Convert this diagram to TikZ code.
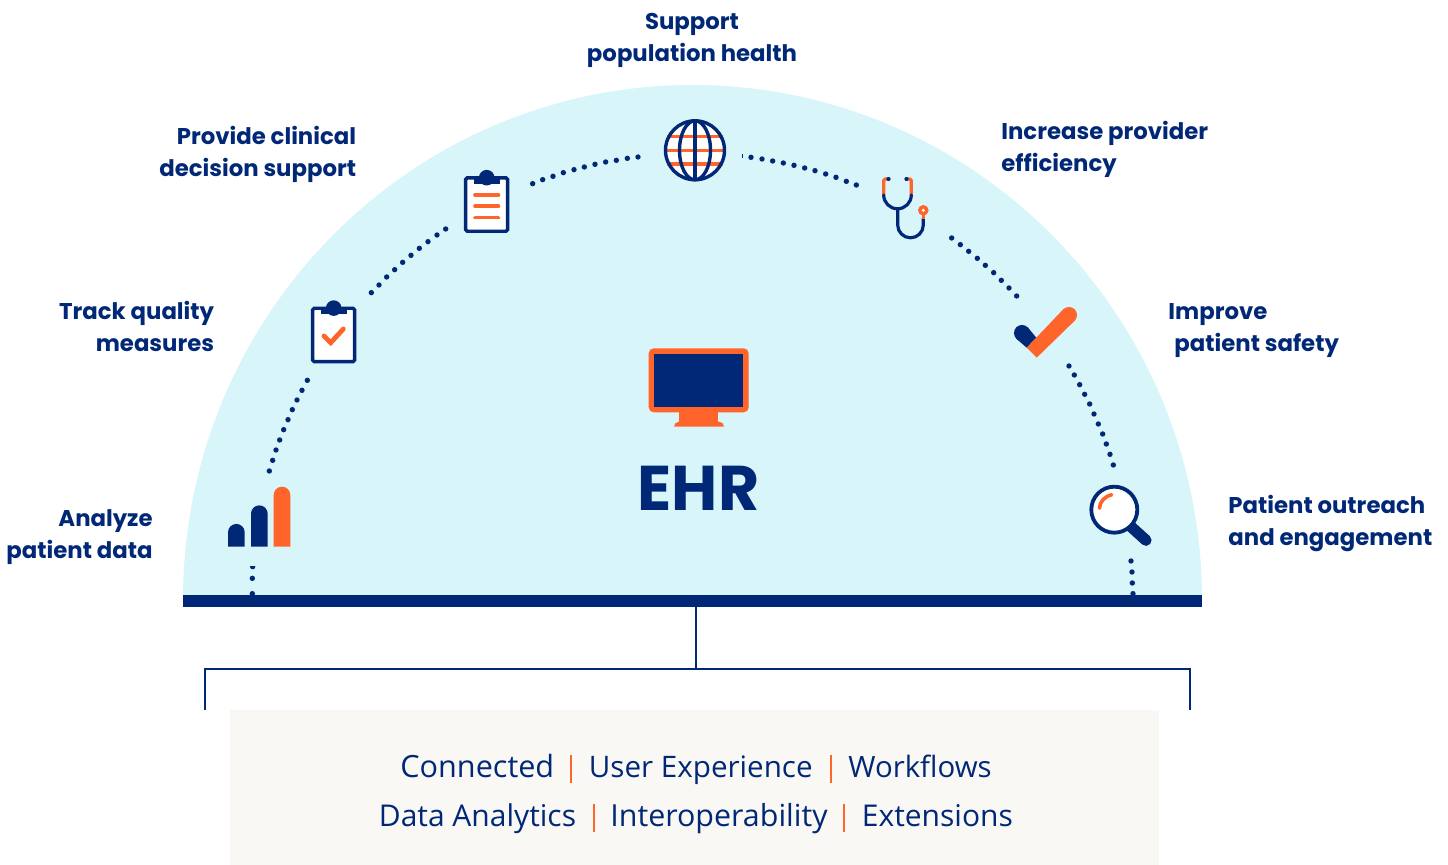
\documentclass[tikz,border=0pt]{standalone}
\usepackage{fontspec}
\setmainfont{Poppins}
\newfontfamily\lowfont{Open Sans}
\definecolor{navy}{HTML}{012876}
\definecolor{org}{HTML}{FF652B}
\definecolor{sky}{HTML}{D8F5FA}
\definecolor{cream}{HTML}{F9F8F4}
\newcommand{\lowsize}[1]{\fontsize{#1}{15}\selectfont}
\tikzset{
 lab/.style={text=navy,font=\fontsize{11.4}{16}\selectfont\bfseries,inner sep=0pt,align=left},
 labr/.style={lab,align=right},
 lower/.style={text=navy,font=\lowfont\fontsize{15}{15}\selectfont,inner sep=0pt,anchor=base west},
 sep/.style={draw=org,line width=1pt},
 nv/.style={draw=navy,line width=1.7pt},
 thinnv/.style={draw=navy,line width=1.6pt,line cap=round,line join=round},
 orline/.style={draw=org,line width=1.8pt,line cap=round},
 conn/.style={draw=navy,line width=1pt},
}
\newcommand{\zdots}[3]{\foreach \x/\y in {#3}{\fill[navy] ({#1+\x/3},{#2+\y/3}) circle[radius=2.7];}}
\newcommand{\clipboard}[2]{% left x, top y
 \begin{scope}[shift={(#1,#2)}]
  \draw[nv,fill=white,rounded corners=0.8pt] (1.6,1.6) rectangle (43.6,55);
  \fill[navy] (9.6,0) rectangle (36,7.8);
  \fill[navy] (22.7,1.4) circle[radius=7.8];
 \end{scope}}
\begin{document}
\begin{tikzpicture}[x=0.5pt,y=-0.5pt]
\useasboundingbox (0,0) rectangle (1448,865);
% dome
\fill[sky] (183,600) arc[start angle=180,end angle=360,x radius=509.5,y radius=515] -- cycle;
% labels
\node[labr,anchor=east] (a) at (153,537) {Analyze\\patient data};
\node[labr,anchor=east] (b) at (214.5,326.5) {Track quality\\measures};
\node[labr,anchor=east] (c) at (356.5,154) {Provide clinical\\decision support};
\node[lab,align=center] (d) at (692,40) {Support\\population health};
\node[lab,anchor=west] (e) at (1001,149) {Increase provider\\efficiency};
\node[lab,anchor=west] (f) at (1168,331) {Improve\\\hspace*{3pt}patient safety};
\node[lab,anchor=west] (g) at (1228,524) {Patient outreach\\and engagement};
\node[text=navy,font=\fontsize{31.6}{31}\selectfont\bfseries,inner sep=0pt] (ehr) at (698.5,488) {EHR};
% dotted arcs
\zdots{210}{280}{178/573,188/541,198/510,209/480,221/449,234/419,247/389,261/360,276/331,292/301}
\zdots{360}{220}{34/218,57/195,80/171,104/149,128/127,153/106,178/85,204/65,231/45,257/27}
\zdots{440}{100}{278/251,308/239,339/229,370/218,402/209,433/201,465/193,497/186,529/181,562/175,594/171}
\zdots{735}{145}{48/37,81/42,113/48,145/54,177/61,209/69,240/77,272/87,303/97,334/109,364/120}
\fill[navy] (742,154.5) rectangle (743,158);
\zdots{860}{160}{275/234,301/254,326/274,352/295,376/316,401/338,424/361,447/384,470/408}
\zdots{1055}{355}{42/33,58/60,74/89,89/118,104/147,117/177,130/207,143/237,154/267,165/298,175/330}
\zdots{1060}{460}{213/303,216/336,217/369,219/401}
\begin{scope}
\clip (240,567) rectangle (265,600);
\zdots{210}{280}{128/860,127/895,127/941}
\end{scope}
% bar chart
\fill[navy] (228,546.7) -- (228,532.3) arc[start angle=180,end angle=360,radius=8.35] -- (244.7,546.7) -- cycle;
\fill[navy] (251,546.7) -- (251,513.7) arc[start angle=180,end angle=360,radius=8.35] -- (267.7,546.7) -- cycle;
\fill[org] (273.7,546.7) -- (273.7,495) arc[start angle=180,end angle=360,radius=8.3] -- (290.3,546.7) -- cycle;
% clipboards
\clipboard{311}{306.7}
\draw[org,line width=2.4pt,line cap=round,line join=miter] (324,336) -- (330.7,342.7) -- (343.3,329);
\clipboard{464}{176.3}
\foreach \yy in {195,206.3,217.7}{\draw[orline] (475,\yy) -- (498.5,\yy);}
% globe
\fill[white] (695,150.3) circle[radius=29.5];
\draw[orline,line cap=butt] (667,136.7) -- (723,136.7) (666,150.7) -- (724,150.7) (667,164.3) -- (723,164.3);
\draw[nv] (695,150.3) circle[radius=29.5];
\draw[nv] (695,150.3) ellipse[x radius=15.5,y radius=29.5];
\draw[nv] (695,121) -- (695,180);
% stethoscope
\draw[thinnv,draw=org,line cap=butt] (888,179) -- (885,179) to[out=180,in=90,looseness=0] (883.7,180.5) -- (883.7,195);
\draw[thinnv,draw=org,line cap=butt] (907,179) -- (910,179) to[out=0,in=90,looseness=0] (911.3,180.5) -- (911.3,195);
\draw[thinnv] (883.7,195) arc[start angle=180,end angle=0,radius=13.8];
\draw[thinnv] (888,179) -- (889,179) (906,179) -- (907,179);
\draw[thinnv,line cap=butt] (897.7,208.5) -- (897.7,225) arc[start angle=180,end angle=0,radius=12.8] -- (923.3,218);
\draw[org,line width=1.6pt] (923.3,219) -- (923.3,212);
\fill[org] (923.3,210.3) circle[radius=5.3];
\fill[white] (923.3,210.3) circle[radius=1.7];
% big check
\fill[navy] (1022,333) circle[radius=8];
\fill[navy] (1016.3,338.7) -- (1026.7,347.7) -- (1036.3,337.7) -- (1027.7,327.3) -- cycle;
\fill[org] (1026.7,347.7) -- (1036.7,357.7) -- (1074.7,320.7) -- (1063.3,309.3) -- cycle;
\fill[org] (1069,315) circle[radius=8];
% magnifier
\draw[navy,line width=5.6pt,line cap=round] (1146,540.3) -- (1128,524);
\draw[nv,line width=1.9pt,fill=white] (1114.3,509.7) circle[radius=23];
\draw[orline] (1099.5,508.3) .. controls (1099.5,502) and (1105,496) .. (1111.7,494.7);
% monitor
\fill[org,rounded corners=2.5pt] (648.7,348.3) rectangle (748.7,412.3);
\fill[navy] (654,353.7) rectangle (743.3,407.3);
\fill[org] (679.3,412) rectangle (718.3,422);
\fill[org] (674,426.7) arc[start angle=180,end angle=270,radius=5] -- (719,421.7) arc[start angle=270,end angle=360,radius=5] -- cycle;
% base bar and bracket
\coordinate (stemtop) at (695.5,607);
\coordinate (stembot) at (695.5,669.5);
\coordinate (brl) at (205,710);
\coordinate (brr) at (1190,710);
\fill[cream] (230,710) rectangle (1159,865);
\draw[conn] (stemtop) -- (stembot);
\draw[conn] (brl) |- (stembot) -| (brr);
\fill[navy] (183,595) rectangle (1202,607);
% lower text
\node[lower] (t1) at (400,778) {\lowsize{15.3}Connected};
\node[lower] (t2) at (588.5,778) {\lowsize{14.8}User Experience};
\node[lower] (t3) at (848,778) {\lowsize{14.7}Workflows};
\node[lower] (t4) at (378.5,827) {Data Analytics};
\node[lower] (t5) at (610,827) {\lowsize{15.2}Interoperability};
\node[lower] (t6) at (861.5,827) {Extensions};
\draw[sep] (571,755) -- (571,783) (830.5,755) -- (830.5,783);
\draw[sep] (593.5,804) -- (593.5,832) (844,804) -- (844,832);
\end{tikzpicture}
\end{document}
